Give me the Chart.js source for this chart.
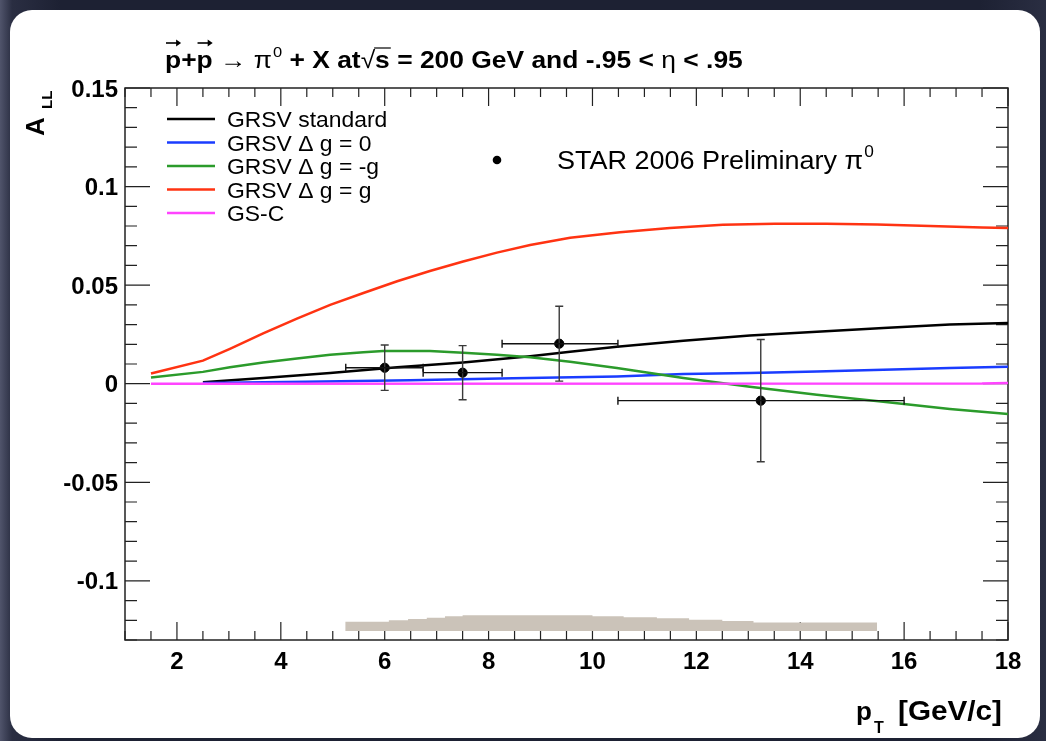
<!DOCTYPE html>
<html>
<head>
<meta charset="utf-8">
<script src="https://cdn.jsdelivr.net/npm/chart.js@4.4.0/dist/chart.umd.min.js"></script>
<style>
  html, body { margin: 0; padding: 0; }
  body {
    width: 1046px; height: 741px; overflow: hidden; position: relative;
    background: linear-gradient(90deg, #50546b 0px, #2a2e42 12px, #1d2133 60px, #1d2133 980px, #2a2e42 1046px);
  }
  #panel {
    position: absolute; left: 10px; top: 10px; width: 1030px; height: 728px;
    background: #ffffff; border-radius: 22px;
  }
  #chart { position: absolute; left: 0; top: 0; }
</style>
</head>
<body>
<div id="panel"></div>
<canvas id="chart" width="1046" height="741"></canvas>
<script>
// axis tick labels
const xTickLabels = [2, 4, 6, 8, 10, 12, 14, 16, 18];
const yTickLabels = [-0.1, -0.05, 0, 0.05, 0.1, 0.15];

// theory curves (pT in GeV/c, A_LL)
const ptStd = [2.5, 3.66, 4.95, 6.24, 7.51, 8.8, 9.57, 10.47, 11.75, 13.03, 14.32, 15.6, 16.88, 18];
const grsvStd = [0.0007, 0.0029, 0.0054, 0.0083, 0.0108, 0.0139, 0.0162, 0.0188, 0.0218, 0.0244, 0.0264, 0.0283, 0.0300, 0.0308];

const ptZero = [2.5, 4.47, 6.49, 8.47, 10.47, 11.75, 13.03, 14.32, 15.6, 16.88, 18];
const grsvZero = [0.0003, 0.0010, 0.0017, 0.0028, 0.0037, 0.0049, 0.0054, 0.0062, 0.0071, 0.0080, 0.0086];

const ptMinus = [1.5, 2.5, 3.02, 3.66, 4.31, 4.95, 5.59, 5.97, 6.87, 7.51, 8.16, 8.8, 9.57, 10.47, 11.75, 13.03, 14.32, 15.6, 16.88, 18];
const grsvMinus = [0.0032, 0.0060, 0.0083, 0.0108, 0.0128, 0.0147, 0.0160, 0.0166, 0.0166, 0.0157, 0.0147, 0.0134, 0.0111, 0.0080, 0.0029, -0.0015, -0.0056, -0.0091, -0.0128, -0.0154];

const ptPlus = [1.5, 2.5, 3.02, 3.66, 4.31, 4.95, 5.59, 6.24, 6.87, 7.51, 8.16, 8.8, 9.57, 10.53, 11.49, 12.51, 13.51, 14.5, 15.48, 16.5, 17.5, 18];
const grsvPlus = [0.0052, 0.0117, 0.0177, 0.0255, 0.0330, 0.0400, 0.0460, 0.0520, 0.0572, 0.0620, 0.0665, 0.0704, 0.0740, 0.0768, 0.0790, 0.0806, 0.0812, 0.0812, 0.0807, 0.0800, 0.0793, 0.0790];

const ptGsc = [1.5, 17.5, 18];
const gsc = [0.0, 0.0001, 0.0004];

// STAR 2006 preliminary pi0 points
const ptData = [6.0, 7.5, 9.36, 13.24];
const allData = [0.0081, 0.0056, 0.0203, -0.0086];
const allErr = [0.0115, 0.0137, 0.019, 0.031];
const ptLow = [5.25, 6.74, 8.26, 10.49];
const ptHigh = [6.74, 8.26, 10.49, 16.0];

// systematic uncertainty band (bin edges and bin tops, drawn from the base)
const sysEdges = [5.24, 6.08, 6.45, 6.81, 7.16, 7.5, 10.0, 10.6, 11.24, 11.86, 12.5, 13.1, 15.48];
const sysTop = [-0.1207, -0.1200, -0.1193, -0.1187, -0.1180, -0.1174, -0.1180, -0.1184, -0.1190, -0.1197, -0.1203, -0.1211];
const sysBase = -0.1254;

const FONT = '"Liberation Sans", Arial, Helvetica, sans-serif';

const toXY = (xs, ys) => xs.map((x, i) => ({ x: x, y: ys[i] }));

const sysPoints = sysTop.map((y, i) => ({ x: sysEdges[i], y: y }));
sysPoints.push({ x: sysEdges[sysEdges.length - 1], y: sysTop[sysTop.length - 1] });

function curve(label, xs, ys, color, order) {
    return {
        label: label, data: toXY(xs, ys), showLine: true, borderColor: color,
        backgroundColor: color, borderWidth: 2.5, pointRadius: 0, tension: 0, order: order
    };
}

// text with optional horizontal stretch sx, returns advance width
function drawText(ctx, str, x, y, size, weight, align, sx) {
    sx = sx || 1;
    ctx.save();
    ctx.font = weight + ' ' + size + 'px ' + FONT;
    const w = ctx.measureText(str).width * sx;
    let x0 = x;
    if (align === 'center') x0 = x - w / 2;
    else if (align === 'right') x0 = x - w;
    ctx.translate(x0, y);
    ctx.scale(sx, 1);
    ctx.textAlign = 'left';
    ctx.textBaseline = 'alphabetic';
    ctx.fillStyle = '#000';
    ctx.fillText(str, 0, 0);
    ctx.restore();
    return w;
}

function arrowOver(ctx, x0, x1, y) {
    ctx.save();
    ctx.strokeStyle = '#000';
    ctx.fillStyle = '#000';
    ctx.lineWidth = 1.6;
    ctx.beginPath();
    ctx.moveTo(x0, y);
    ctx.lineTo(x1 - 3, y);
    ctx.stroke();
    ctx.beginPath();
    ctx.moveTo(x1, y);
    ctx.lineTo(x1 - 5, y - 3.5);
    ctx.lineTo(x1 - 5, y + 3.5);
    ctx.closePath();
    ctx.fill();
    ctx.restore();
}

const frame = {
    id: 'frame',
    beforeDatasetsDraw(chart) {
        const { ctx, chartArea: a, scales: { x, y } } = chart;
        ctx.save();
        ctx.strokeStyle = '#222';
        ctx.lineWidth = 1.5;
        ctx.strokeRect(a.left, a.top, a.right - a.left, a.bottom - a.top);
        ctx.lineWidth = 1.2;
        ctx.beginPath();
        // pT ticks every 0.5, long ones on the even labels
        for (let k = 2; k <= 36; k++) {
            const v = k / 2;
            const px = x.getPixelForValue(v);
            const len = xTickLabels.includes(v) ? 18 : 9;
            ctx.moveTo(px, a.bottom); ctx.lineTo(px, a.bottom - len);
            ctx.moveTo(px, a.top); ctx.lineTo(px, a.top + len);
        }
        // A_LL ticks every 0.01, long ones every 0.05
        for (let k = -13; k <= 15; k++) {
            const py = y.getPixelForValue(k / 100);
            const len = k % 5 === 0 ? 25 : 12;
            ctx.moveTo(a.left, py); ctx.lineTo(a.left + len, py);
            ctx.moveTo(a.right, py); ctx.lineTo(a.right - len, py);
        }
        ctx.stroke();
        ctx.restore();
    },
    afterDatasetsDraw(chart) {
        const { ctx, chartArea: a, scales: { x, y } } = chart;
        ctx.save();
        // error bars of the data points
        ptData.forEach((pt, i) => {
            const px = x.getPixelForValue(pt);
            const py = y.getPixelForValue(allData[i]);
            const yt = y.getPixelForValue(allData[i] + allErr[i]);
            const yb = y.getPixelForValue(allData[i] - allErr[i]);
            const xl = x.getPixelForValue(ptLow[i]);
            const xr = x.getPixelForValue(ptHigh[i]);
            ctx.lineWidth = 1.4;
            ctx.strokeStyle = '#3a3a3a';
            ctx.beginPath();
            ctx.moveTo(px, yt); ctx.lineTo(px, yb);
            ctx.moveTo(px - 4, yt); ctx.lineTo(px + 4, yt);
            ctx.moveTo(px - 4, yb); ctx.lineTo(px + 4, yb);
            ctx.stroke();
            ctx.strokeStyle = '#111';
            ctx.beginPath();
            ctx.moveTo(xl, py); ctx.lineTo(xr, py);
            ctx.moveTo(xl, py - 4); ctx.lineTo(xl, py + 4);
            ctx.moveTo(xr, py - 4); ctx.lineTo(xr, py + 4);
            ctx.stroke();
        });
        ctx.restore();

        // tick labels
        xTickLabels.forEach(v => drawText(ctx, String(v), x.getPixelForValue(v), a.bottom + 29, 24, 'bold', 'center'));
        yTickLabels.forEach(v => drawText(ctx, String(v), a.left - 7, y.getPixelForValue(v) + 8.5, 24, 'bold', 'right'));

        // axis titles
        drawText(ctx, 'p', 856, 720, 26, 'bold', 'left');
        drawText(ctx, 'T', 874, 733, 16, 'bold', 'left');
        drawText(ctx, '[GeV/c]', 898, 720, 27, 'bold', 'left', 1.1);
        ctx.save();
        ctx.translate(44, 88);
        ctx.rotate(-Math.PI / 2);
        drawText(ctx, 'A', -48, 0, 26, 'bold', 'left');
        drawText(ctx, 'LL', -21, 8, 15, 'bold', 'left');
        ctx.restore();

        // title
        const by = 68;
        const ts = 24, tx = 1.1;
        let cx = 165;
        const p1 = drawText(ctx, 'p', cx, by, ts, 'bold', 'left', tx);
        arrowOver(ctx, cx + 1, cx + p1, 43);
        cx += p1;
        cx += drawText(ctx, '+', cx, by, ts, 'bold', 'left', tx);
        const p2 = drawText(ctx, 'p', cx, by, ts, 'bold', 'left', tx);
        arrowOver(ctx, cx + 1, cx + p2, 43);
        cx += p2;
        cx += drawText(ctx, ' \u2192 \u03c0', cx, by, ts, 'normal', 'left', tx);
        cx += drawText(ctx, '0', cx + 1, by - 11, 15, 'normal', 'left', tx) + 1;
        cx += drawText(ctx, ' + X at', cx, by, ts, 'bold', 'left', tx);
        cx += drawText(ctx, '\u221a', cx, by, ts, 'normal', 'left', tx);
        const sw = drawText(ctx, 's', cx, by, ts, 'bold', 'left', tx);
        ctx.save();
        ctx.strokeStyle = '#000';
        ctx.lineWidth = 1.2;
        ctx.beginPath();
        ctx.moveTo(cx - 1, 48); ctx.lineTo(cx + sw + 1, 48);
        ctx.stroke();
        ctx.restore();
        cx += sw;
        cx += drawText(ctx, ' = 200 GeV and -.95 < ', cx, by, ts, 'bold', 'left', tx);
        cx += drawText(ctx, '\u03b7', cx, by, ts, 'normal', 'left', tx);
        drawText(ctx, ' < .95', cx, by, ts, 'bold', 'left', tx);

        // legend
        const rows = [
            ['GRSV standard', '#000000'],
            ['GRSV \u0394 g = 0', '#1a3cff'],
            ['GRSV \u0394 g = -g', '#2b9b2b'],
            ['GRSV \u0394 g = g', '#ff3312'],
            ['GS-C', '#ff44ff']
        ];
        rows.forEach((r, i) => {
            const ry = 119 + i * 23.5;
            ctx.save();
            ctx.strokeStyle = r[1];
            ctx.lineWidth = 2.5;
            ctx.beginPath();
            ctx.moveTo(167, ry); ctx.lineTo(215, ry);
            ctx.stroke();
            ctx.restore();
            drawText(ctx, r[0], 227, ry + 8, 22, 'normal', 'left', 1.04);
        });
        ctx.save();
        ctx.fillStyle = '#000';
        ctx.beginPath();
        ctx.arc(497, 160, 4.3, 0, Math.PI * 2);
        ctx.fill();
        ctx.restore();
        const sl = drawText(ctx, 'STAR 2006 Preliminary \u03c0', 557, 169, 25, 'normal', 'left', 1.08);
        drawText(ctx, '0', 557 + sl + 1, 157, 16, 'normal', 'left', 1.08);
    }
};

new Chart(document.getElementById('chart'), {
    type: 'scatter',
    data: {
        datasets: [
            {
                label: 'STAR 2006 Preliminary', data: toXY(ptData, allData),
                backgroundColor: '#000', borderColor: '#000', pointRadius: 4.6, order: 0
            },
            curve('GS-C', ptGsc, gsc, '#ff44ff', 1),
            curve('GRSV \u0394 g = g', ptPlus, grsvPlus, '#ff3312', 2),
            curve('GRSV \u0394 g = -g', ptMinus, grsvMinus, '#2b9b2b', 3),
            curve('GRSV \u0394 g = 0', ptZero, grsvZero, '#1a3cff', 4),
            curve('GRSV standard', ptStd, grsvStd, '#000000', 5),
            {
                label: 'sys', data: sysPoints, showLine: true, stepped: true,
                borderWidth: 0, borderColor: 'rgba(0,0,0,0)', pointRadius: 0,
                backgroundColor: '#cbc3b9', fill: { value: sysBase }, order: 9
            }
        ]
    },
    options: {
        responsive: false,
        animation: false,
        layout: { padding: { left: 125, right: 38, top: 88, bottom: 101 } },
        plugins: { legend: { display: false }, tooltip: { enabled: false }, title: { display: false } },
        scales: {
            x: { type: 'linear', min: 1, max: 18, display: false },
            y: { type: 'linear', min: -0.13, max: 0.15, display: false }
        }
    },
    plugins: [frame]
});
</script>
</body>
</html>
